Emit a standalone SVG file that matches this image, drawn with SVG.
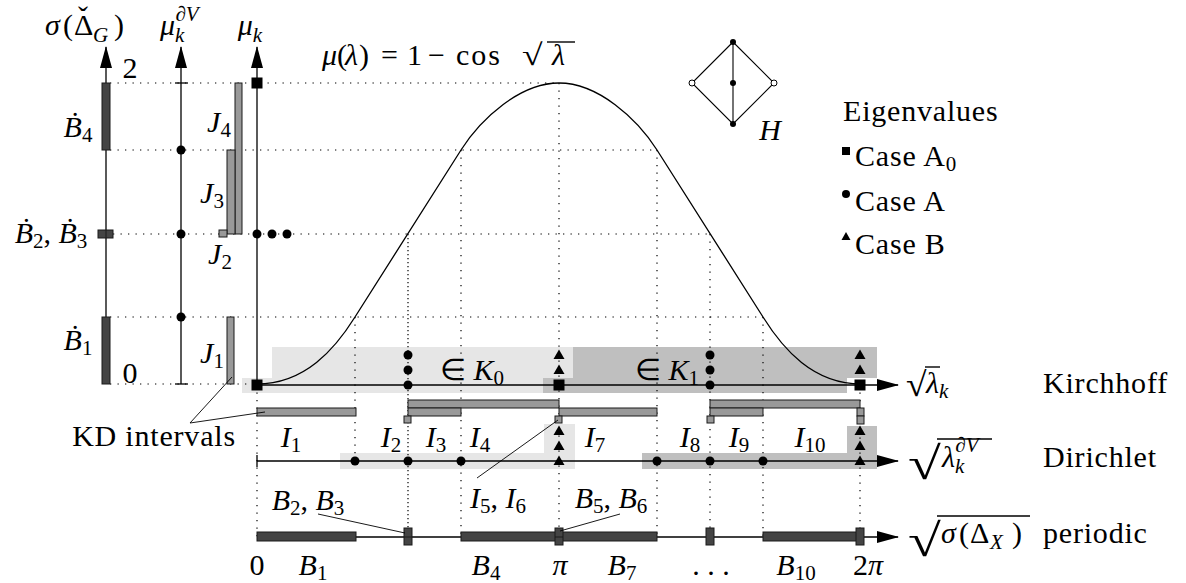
<svg xmlns="http://www.w3.org/2000/svg" width="1186" height="583" viewBox="0 0 1186 583">
<style>
text{font-family:"Liberation Serif",serif;font-size:30px;fill:#000}
.i{font-style:italic}
.s{font-size:21px}
.w{letter-spacing:0.8px}
.dt{stroke:#000;stroke-width:1.2;stroke-dasharray:1.3 6.2;fill:none}
.dd{stroke:#000;stroke-width:1.2;stroke-dasharray:1.3 2.7;fill:none}
.ax{stroke:#000;stroke-width:1.3;fill:none}
.ld{stroke:#000;stroke-width:0.9;fill:none}
.vn{stroke:#000;stroke-width:1.4}
.bd{fill:#444;stroke:#1a1a1a;stroke-width:1}
.bm{fill:#999;stroke:#1a1a1a;stroke-width:1}
.sl{fill:#e6e6e6}
.sd{fill:#bfbfbf}
</style>
<defs>
<marker id="ar" markerUnits="userSpaceOnUse" markerWidth="22" markerHeight="12" viewBox="0 0 22 12" refX="21" refY="6" orient="auto"><path d="M0,0 L22,6 L0,12 Z" fill="#000"/></marker>
<rect id="sq" x="-5.5" y="-5.5" width="11" height="11" fill="#000"/>
<circle id="ci" r="4.5" fill="#000"/>
<path id="tr" d="M-5.5,4 L5.5,4 L0,-5.5 Z" fill="#000"/>
</defs>
<rect width="1186" height="583" fill="#fff"/>

<g id="shading">
<polygon class="sl" points="242,378 272,378 272,347 573,347 573,378 543,378 543,393 242,393"/>
<polygon class="sd" points="573,347 877,347 877,378 847,378 847,393 543,393 543,378 573,378"/>
<polygon class="sl" points="340,453 544,453 544,424 575,424 575,469 340,469"/>
<polygon class="sd" points="642,453 847,453 847,426 877,426 877,469 642,469"/>
</g>

<g id="grid">
<line class="dt" x1="110" y1="83" x2="559" y2="83"/>
<line class="dt" x1="110" y1="150" x2="657" y2="150"/>
<line class="dt" x1="113" y1="234" x2="710" y2="234"/>
<line class="dt" x1="110" y1="317" x2="763" y2="317"/>
<line class="dt" x1="110" y1="384" x2="257" y2="384"/>
<line class="dt" x1="355" y1="317" x2="355" y2="461"/>
<line class="dd" x1="408" y1="234" x2="408" y2="537"/>
<line class="dt" x1="461" y1="150" x2="461" y2="537"/>
<line class="dt" x1="559" y1="83" x2="559" y2="537"/>
<line class="dt" x1="657" y1="150" x2="657" y2="537"/>
<line class="dt" x1="710" y1="234" x2="710" y2="537"/>
<line class="dt" x1="763" y1="317" x2="763" y2="537"/>
<line class="dt" x1="860" y1="385" x2="860" y2="537"/>
<line class="dt" x1="257" y1="385" x2="257" y2="537"/>
</g>

<g id="curve">
<path d="M257,384 C305,384 335,349 355,317 L461,150 C481,118.5 520,83 559,83 C598,83 637,118.5 657,150 L763,317 C783,349 813,384 861,384" fill="none" stroke="#000" stroke-width="1.3"/>
</g>

<g id="axes">
<line class="ax" x1="106" y1="384" x2="106" y2="47" marker-end="url(#ar)"/>
<line class="ax" x1="181" y1="384" x2="181" y2="47" marker-end="url(#ar)"/>
<line class="ax" x1="175" y1="384" x2="188" y2="384"/>
<line class="ax" x1="175" y1="83" x2="188" y2="83"/>
<line class="ax" x1="257" y1="385" x2="257" y2="47" marker-end="url(#ar)"/>
<line class="ax" x1="257" y1="385" x2="898" y2="385" marker-end="url(#ar)"/>
<line class="ax" x1="257" y1="461" x2="898" y2="461" marker-end="url(#ar)"/>
<line class="ax" x1="257" y1="455" x2="257" y2="467"/>
<line class="ax" x1="257" y1="537" x2="898" y2="537" marker-end="url(#ar)"/>
</g>

<g id="bars">
<rect class="bd" x="102" y="83" width="8" height="67"/>
<rect class="bd" x="102" y="317" width="8" height="67"/>
<rect class="bd" x="98" y="230" width="15" height="8"/>
<line x1="106" y1="230" x2="106" y2="238" stroke="#1a1a1a" stroke-width="1"/>
<rect class="bm" x="235" y="83" width="7" height="151"/>
<rect class="bm" x="227" y="150" width="8" height="84"/>
<rect class="bm" x="219" y="230" width="8" height="7"/>
<rect class="bm" x="227" y="317" width="7" height="67"/>
<rect class="bm" x="257" y="408" width="99" height="8"/>
<rect class="bm" x="408" y="400" width="151" height="8"/>
<rect class="bm" x="408" y="408" width="53" height="8"/>
<rect class="bm" x="559" y="408" width="98" height="8"/>
<rect class="bm" x="710" y="400" width="150" height="8"/>
<rect class="bm" x="710" y="408" width="53" height="8"/>
<rect class="bm" x="857" y="408" width="7" height="8"/>
<rect class="bm" x="857" y="416" width="7" height="8"/>
<rect class="bm" x="404" y="416" width="7" height="7"/>
<rect class="bm" x="555" y="416" width="7" height="7"/>
<rect class="bm" x="707" y="416" width="7" height="7"/>
<rect class="bd" x="257" y="532" width="99" height="9"/>
<rect class="bd" x="461" y="532" width="98" height="9"/>
<rect class="bd" x="559" y="532" width="98" height="9"/>
<rect class="bd" x="763" y="532" width="97" height="9"/>
<rect class="bd" x="404" y="528" width="8" height="17"/>
<line x1="404" y1="537" x2="412" y2="537" stroke="#1a1a1a"/>
<rect class="bd" x="555" y="528" width="8" height="17"/>
<line x1="555" y1="537" x2="563" y2="537" stroke="#1a1a1a"/>
<rect class="bd" x="706" y="528" width="8" height="17"/>
<rect class="bd" x="856" y="528" width="8" height="17"/>
</g>

<g id="markers">
<use href="#sq" x="257" y="83"/>
<use href="#sq" x="257" y="385"/>
<use href="#sq" x="559" y="385"/>
<use href="#sq" x="860" y="385"/>
<use href="#ci" x="181" y="150"/>
<use href="#ci" x="181" y="234"/>
<use href="#ci" x="181" y="317"/>
<use href="#ci" x="257" y="234"/>
<use href="#ci" x="272" y="234"/>
<use href="#ci" x="287" y="234"/>
<use href="#ci" x="408" y="385"/>
<use href="#ci" x="408" y="370"/>
<use href="#ci" x="408" y="355"/>
<use href="#ci" x="710" y="385"/>
<use href="#ci" x="710" y="370"/>
<use href="#ci" x="710" y="355"/>
<use href="#tr" x="559" y="370"/>
<use href="#tr" x="559" y="355"/>
<use href="#tr" x="860" y="370"/>
<use href="#tr" x="860" y="355"/>
<use href="#ci" x="355" y="461"/>
<use href="#ci" x="408" y="461"/>
<use href="#ci" x="461" y="461"/>
<use href="#ci" x="657" y="461"/>
<use href="#ci" x="710" y="461"/>
<use href="#ci" x="763" y="461"/>
<use href="#tr" x="559" y="461"/>
<use href="#tr" x="559" y="446"/>
<use href="#tr" x="559" y="431"/>
<use href="#tr" x="860" y="461"/>
<use href="#tr" x="860" y="446"/>
<use href="#tr" x="860" y="431"/>
</g>

<g id="connectors">
<polyline class="ld" points="232,377 190,423 265,412"/>
<line class="ld" x1="477" y1="478" x2="558" y2="420"/>
<line class="ld" x1="318" y1="514" x2="405" y2="533"/>
<line class="ld" x1="620" y1="514" x2="560" y2="531"/>
</g>

<g id="graphH">
<polyline points="733,42 692,83 733,124 774,83 733,42" fill="none" stroke="#000" stroke-width="1.1"/>
<line x1="733" y1="42" x2="733" y2="124" stroke="#000" stroke-width="1.1"/>
<circle cx="733" cy="42" r="3" fill="#000"/>
<circle cx="733" cy="83" r="3" fill="#000"/>
<circle cx="733" cy="124" r="3" fill="#000"/>
<circle cx="692" cy="83" r="3" fill="#fff" stroke="#000"/>
<circle cx="774" cy="83" r="3" fill="#fff" stroke="#000"/>
<text x="770" y="140" text-anchor="middle" class="i">H</text>
</g>

<g id="legend">
<text x="843" y="121" class="w">Eigenvalues</text>
<rect x="842" y="147" width="8" height="8" fill="#000"/>
<text x="855" y="166" class="w">Case A<tspan class="s" dy="5">0</tspan></text>
<circle cx="846" cy="194" r="4" fill="#000"/>
<text x="855" y="211" class="w">Case A</text>
<path d="M841.5,240 L850.5,240 L846,232 Z" fill="#000"/>
<text x="855" y="254" class="w">Case B</text>
</g>

<g id="labels">
<text x="45" y="35"><tspan class="i">σ</tspan><tspan x="63">(</tspan><tspan x="74">Δ</tspan><tspan x="93" class="s i" dy="7">G</tspan><tspan x="114" dy="-7">)</tspan></text>
<text x="83" y="27" text-anchor="middle">ˇ</text>
<text x="160" y="35"><tspan class="i">μ</tspan><tspan class="s i" dy="7">k</tspan><tspan class="s i" dx="-9" dy="-21">∂V</tspan></text>
<text x="250" y="35" text-anchor="middle"><tspan class="i">μ</tspan><tspan class="s i" dy="7">k</tspan></text>
<text x="130" y="78" text-anchor="middle">2</text>
<text x="130" y="383" text-anchor="middle">0</text>
<text x="78" y="137" text-anchor="middle"><tspan class="i">Ḃ</tspan><tspan class="s" dy="5">4</tspan></text>
<text x="51" y="243" text-anchor="middle"><tspan class="i">Ḃ</tspan><tspan class="s" dy="5">2</tspan><tspan dy="-5">, </tspan><tspan class="i">Ḃ</tspan><tspan class="s" dy="5">3</tspan></text>
<text x="78" y="350" text-anchor="middle"><tspan class="i">Ḃ</tspan><tspan class="s" dy="5">1</tspan></text>
<text x="219" y="132" text-anchor="middle"><tspan class="i">J</tspan><tspan class="s" dy="5">4</tspan></text>
<text x="212" y="203" text-anchor="middle"><tspan class="i">J</tspan><tspan class="s" dy="5">3</tspan></text>
<text x="220" y="264" text-anchor="middle"><tspan class="i">J</tspan><tspan class="s" dy="5">2</tspan></text>
<text x="212" y="363" text-anchor="middle"><tspan class="i">J</tspan><tspan class="s" dy="5">1</tspan></text>

<text x="322" y="65"><tspan class="i">μ</tspan><tspan x="337">(</tspan><tspan x="345" class="i">λ</tspan><tspan x="359">)</tspan><tspan x="381">=</tspan><tspan x="407">1</tspan><tspan x="428">−</tspan><tspan x="456" style="letter-spacing:2px">cos</tspan></text>
<text transform="translate(522,65) scale(1.25,1)">√</text>
<text x="552" y="65" class="i">λ</text>
<line class="vn" x1="547" y1="42" x2="575" y2="42"/>

<text x="472" y="380" text-anchor="middle">∈ <tspan class="i">K</tspan><tspan class="s" dy="5">0</tspan></text>
<text x="667" y="380" text-anchor="middle">∈ <tspan class="i">K</tspan><tspan class="s" dy="5">1</tspan></text>

<text x="154" y="446" text-anchor="middle" class="w">KD intervals</text>
<text x="291" y="447" text-anchor="middle"><tspan class="i">I</tspan><tspan class="s" dy="5">1</tspan></text>
<text x="391" y="447" text-anchor="middle"><tspan class="i">I</tspan><tspan class="s" dy="5">2</tspan></text>
<text x="436" y="447" text-anchor="middle"><tspan class="i">I</tspan><tspan class="s" dy="5">3</tspan></text>
<text x="480" y="447" text-anchor="middle"><tspan class="i">I</tspan><tspan class="s" dy="5">4</tspan></text>
<text x="595" y="447" text-anchor="middle"><tspan class="i">I</tspan><tspan class="s" dy="5">7</tspan></text>
<text x="690" y="447" text-anchor="middle"><tspan class="i">I</tspan><tspan class="s" dy="5">8</tspan></text>
<text x="739" y="447" text-anchor="middle"><tspan class="i">I</tspan><tspan class="s" dy="5">9</tspan></text>
<text x="810" y="447" text-anchor="middle"><tspan class="i">I</tspan><tspan class="s" dy="5">10</tspan></text>

<text x="498" y="508" text-anchor="middle"><tspan class="i">I</tspan><tspan class="s" dy="5">5</tspan><tspan dy="-5">, </tspan><tspan class="i">I</tspan><tspan class="s" dy="5">6</tspan></text>
<text x="611" y="508" text-anchor="middle"><tspan class="i">B</tspan><tspan class="s" dy="5">5</tspan><tspan dy="-5">, </tspan><tspan class="i">B</tspan><tspan class="s" dy="5">6</tspan></text>
<text x="308" y="510" text-anchor="middle"><tspan class="i">B</tspan><tspan class="s" dy="5">2</tspan><tspan dy="-5">, </tspan><tspan class="i">B</tspan><tspan class="s" dy="5">3</tspan></text>

<text x="257" y="575" text-anchor="middle">0</text>
<text x="313" y="575" text-anchor="middle"><tspan class="i">B</tspan><tspan class="s" dy="5">1</tspan></text>
<text x="486" y="575" text-anchor="middle"><tspan class="i">B</tspan><tspan class="s" dy="5">4</tspan></text>
<text x="560" y="575" text-anchor="middle" class="i">π</text>
<text x="622" y="575" text-anchor="middle"><tspan class="i">B</tspan><tspan class="s" dy="5">7</tspan></text>
<text x="711" y="575" text-anchor="middle">. . .</text>
<text x="796" y="575" text-anchor="middle"><tspan class="i">B</tspan><tspan class="s" dy="5">10</tspan></text>
<text x="868" y="575" text-anchor="middle">2<tspan class="i">π</tspan></text>

<text transform="translate(906,396) scale(1.1,1)" style="font-size:34px">√</text>
<line class="vn" x1="925" y1="367" x2="940" y2="367"/>
<text x="926" y="393"><tspan class="i">λ</tspan><tspan class="s i" dy="5">k</tspan></text>
<text x="1043" y="393" class="w">Kirchhoff</text>

<text transform="translate(908,479) scale(1.3,1)" style="font-size:46px">√</text>
<line class="vn" x1="937" y1="439" x2="992" y2="439"/>
<text x="942" y="467"><tspan class="i">λ</tspan><tspan class="s i" dy="6">k</tspan><tspan class="s i" dx="-9" dy="-21">∂V</tspan></text>
<text x="1043" y="467" class="w">Dirichlet</text>

<text transform="translate(908,556) scale(1.3,1)" style="font-size:46px">√</text>
<line class="vn" x1="937" y1="516" x2="1030" y2="516"/>
<text x="941" y="543"><tspan class="i">σ</tspan><tspan x="959">(</tspan><tspan x="970">Δ</tspan><tspan x="990" class="s i" dy="6">X</tspan><tspan x="1012" dy="-6">)</tspan></text>
<text x="1043" y="543" class="w">periodic</text>
</g>
</svg>
